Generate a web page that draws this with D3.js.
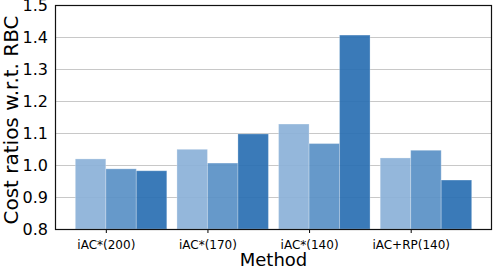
<!DOCTYPE html>
<html>
<head>
<meta charset="utf-8">
<script src="https://cdn.jsdelivr.net/npm/d3@7"></script>
<style>
  body { margin: 0; background: #fff; }
  svg { display: block; font-family: "DejaVu Sans", sans-serif; }
</style>
</head>
<body>
<div class="chart"></div>
<script>
var methods = ["iAC*(200)", "iAC*(170)", "iAC*(140)", "iAC+RP(140)"];
var seriesA = [1.019, 1.049, 1.128, 1.022];
var seriesB = [0.988, 1.006, 1.067, 1.046];
var seriesC = [0.982, 1.097, 1.406, 0.953];
var yTicks = [0.8, 0.9, 1.0, 1.1, 1.2, 1.3, 1.4, 1.5];

var colors = ["#8cb2d8", "#5a91c6", "#2b70b3"];
var allSeries = [seriesA, seriesB, seriesC];

var w = 494, h = 270;
var margin = {left: 55, top: 5, right: 2, bottom: 41};

var svg = d3.select('.chart')
	.append('svg')
	.attr('width', w)
	.attr('height', h);

var x = d3.scaleLinear()
	.domain([-0.5, 3.8])
	.range([margin.left, w - margin.right]);

var y = d3.scaleLinear()
	.domain([0.8, 1.5])
	.range([h - margin.bottom, margin.top]);

var barW = 0.3;

// grid
svg.append('g')
	.selectAll('line')
	.data(yTicks)
	.enter()
	.append('line')
	.attr('x1', x(-0.5))
	.attr('x2', x(3.8))
	.attr('y1', function(d){ return Math.round(y(d)) + 0.5; })
	.attr('y2', function(d){ return Math.round(y(d)) + 0.5; })
	.attr('stroke', '#c8c8c8')
	.attr('stroke-width', 1);

// bars: tick sits at the left edge of the middle bar
allSeries.forEach(function(vals, s){
	svg.append('g')
		.selectAll('rect')
		.data(vals)
		.enter()
		.append('rect')
		.attr('x', function(d, i){ return x(i + (s - 1) * barW); })
		.attr('y', function(d){ return y(d); })
		.attr('width', x(barW) - x(0))
		.attr('height', function(d){ return y(0.8) - y(d); })
		.attr('fill', colors[s])
		.attr('fill-opacity', 0.93)
		.attr('stroke', '#fff')
		.attr('stroke-opacity', 0.25)
		.attr('stroke-width', 1);
});

// axes
var xAxis = d3.axisBottom(x)
	.tickValues([0, 1, 2, 3])
	.tickFormat(function(d){ return methods[d]; })
	.tickSize(4)
	.tickSizeOuter(0);

var gx = svg.append('g')
	.attr('transform', 'translate(0,' + y(0.8) + ')')
	.call(xAxis);
gx.select('.domain').remove();
gx.selectAll('text')
	.attr('font-size', '12px')
	.attr('font-family', '"DejaVu Sans", sans-serif')
	.attr('fill', '#000')
	.attr('dy', '1.05em');

var yAxis = d3.axisLeft(y)
	.tickValues(yTicks)
	.tickFormat(d3.format('.1f'))
	.tickSize(0)
	.tickPadding(7);

var gy = svg.append('g')
	.attr('transform', 'translate(' + margin.left + ',0)')
	.call(yAxis);
gy.select('.domain').remove();
gy.selectAll('text')
	.attr('font-size', '16px')
	.attr('font-family', '"DejaVu Sans", sans-serif')
	.attr('fill', '#000');

// frame
svg.append('rect')
	.attr('x', x(-0.5) + 0.5)
	.attr('y', y(1.5) + 0.5)
	.attr('width', x(3.8) - x(-0.5) - 1)
	.attr('height', y(0.8) - y(1.5))
	.attr('fill', 'none')
	.attr('stroke', '#111')
	.attr('stroke-width', 1.2);

// labels
svg.append('text')
	.text('Method')
	.attr('x', (x(-0.5) + x(3.8)) / 2)
	.attr('y', 266)
	.attr('text-anchor', 'middle')
	.attr('font-size', '18px');

svg.append('text')
	.text('Cost ratios w.r.t. RBC')
	.attr('transform', 'translate(18,120) rotate(-90)')
	.attr('text-anchor', 'middle')
	.attr('font-size', '20px');
</script>
</body>
</html>
